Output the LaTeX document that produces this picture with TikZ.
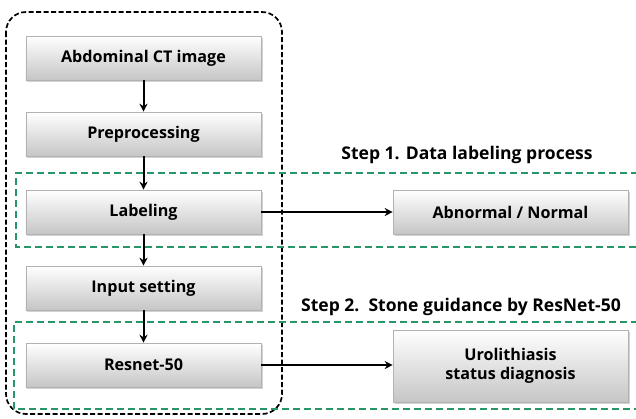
\documentclass[tikz,border=0pt]{standalone}
\usepackage{fontspec}
\setmainfont{Open Sans}
\usetikzlibrary{arrows.meta,shadows}
\definecolor{stepgreen}{RGB}{40,150,105}
\tikzset{
  procbox/.style={draw=gray!60, line width=0.6bp, minimum width=235bp, minimum height=44bp,
    top color=white, bottom color=gray!45, drop shadow={opacity=0.35, shadow xshift=1.5bp, shadow yshift=-1.5bp},
    font=\bfseries\fontsize{16.2}{19.5}\selectfont, align=center, inner sep=0pt},
  flow/.style={-{Stealth[length=8bp,width=8bp]}, line width=2bp},
  greenbox/.style={draw=stepgreen, line width=2bp, dash pattern=on 7bp off 4bp},
  steplabel/.style={font=\bfseries\fontsize{17.6}{21}\selectfont, inner sep=0pt}
}
\begin{document}
\begin{tikzpicture}[x=1bp,y=-1bp]
\useasboundingbox (0,0) rectangle (636,418);
\fill[white] (0,0) rectangle (636,418);
% black dashed container
\draw[line width=1.7bp, dash pattern=on 5bp off 2.5bp, rounded corners=20bp] (6,12) rectangle (282,414);
% green step boxes
\draw[greenbox] (660,173) -- (16,173) -- (16,247) -- (660,247);
\draw[greenbox] (660,322) -- (14,322) -- (14,409) -- (660,409);
% nodes
\node[procbox] (ct) at (143.5,58) {Abdominal CT image};
\node[procbox] (pre) at (143.5,134) {Preprocessing};
\node[procbox] (lab) at (143.5,212) {Labeling};
\node[procbox] (inp) at (143.5,288) {Input setting};
\node[procbox] (res) at (143.5,365) {Resnet-50};
\node[procbox] (abn) at (510.5,212) {Abnormal / Normal};
\node[procbox, minimum height=72bp] (uro) at (510.5,366) {Urolithiasis\\status diagnosis};
\node[steplabel] (s1) at (467,155) {Step 1. Data labeling process};
\node[steplabel] (s2) at (461,307) {Step 2.\ \ Stone guidance by ResNet-50};
% arrows
\draw[flow] (ct) -- (pre);
\draw[flow] (pre) -- (lab);
\draw[flow] (lab) -- (inp);
\draw[flow] (inp) -- (res);
\draw[flow] (lab) -- (abn);
\draw[flow] (res.east) -- (uro.west |- res.east);
\end{tikzpicture}
\end{document}
